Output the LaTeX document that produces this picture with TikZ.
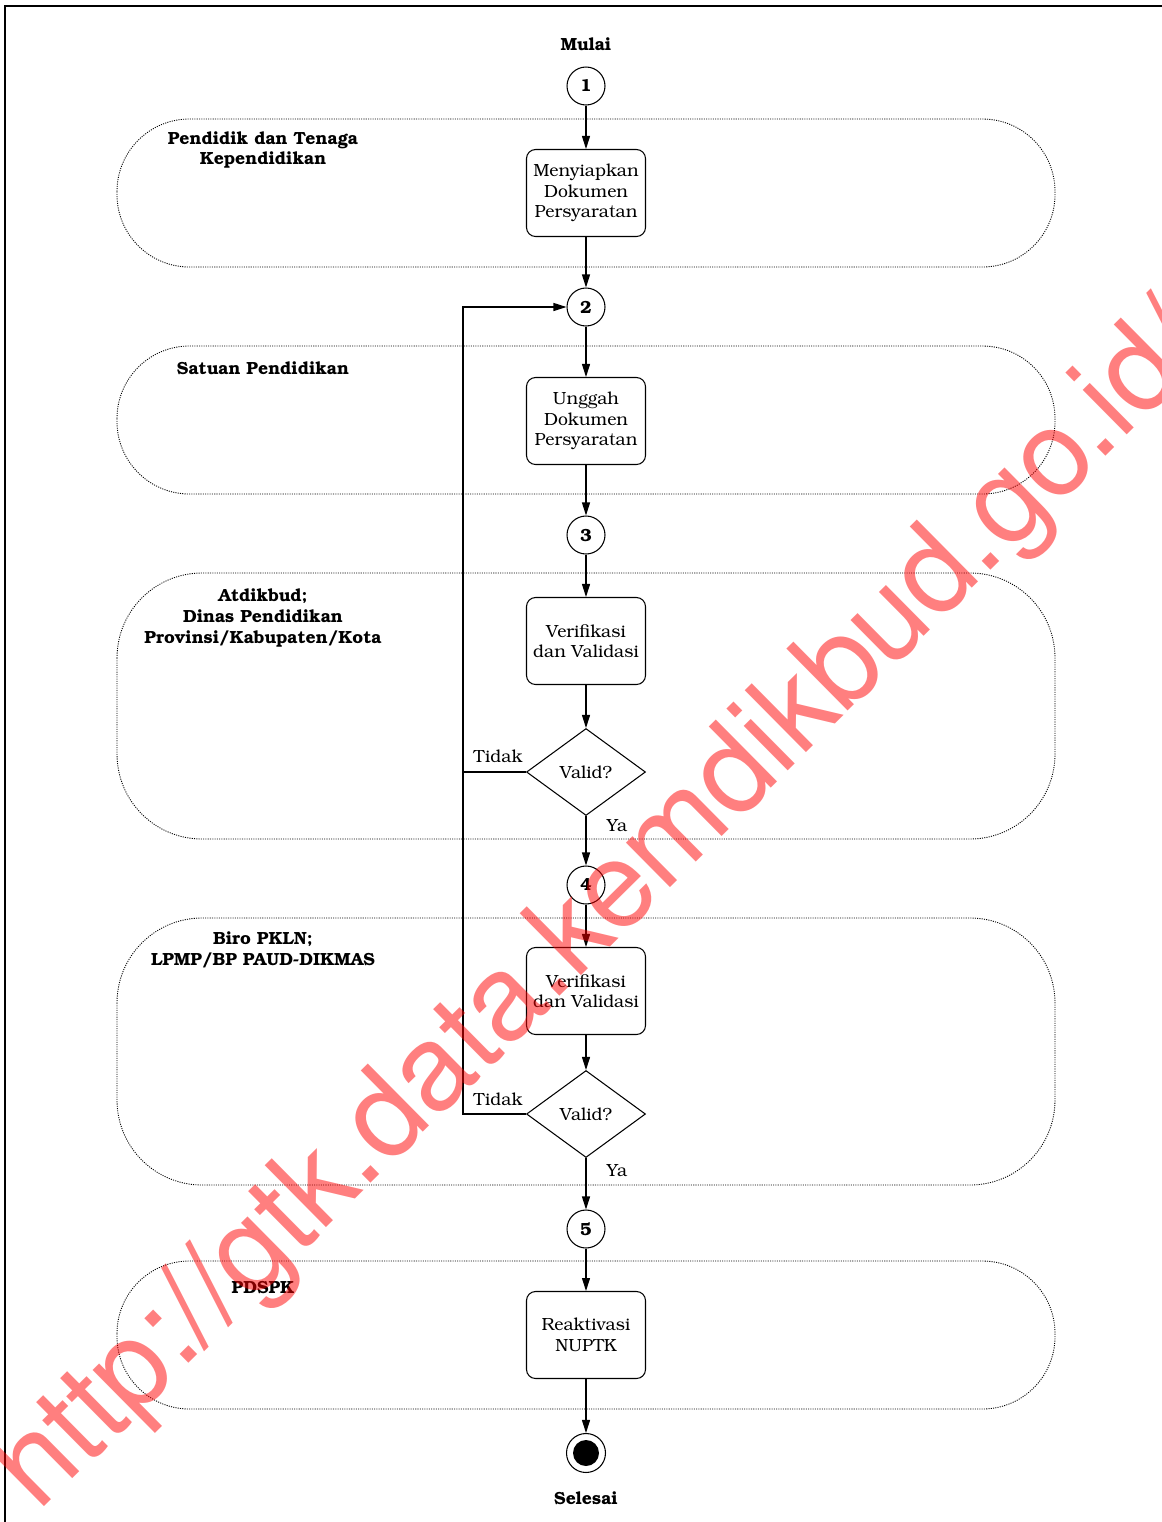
\documentclass[tikz,border=0pt]{standalone}
\usepackage[T1]{fontenc}
\usepackage{bookman}
\usetikzlibrary{shapes.geometric,arrows.meta}

\begin{document}
\begin{tikzpicture}[x=0.02cm,y=-0.02cm,
    lane/.style={draw,line width=0.5pt,dash pattern=on 0.6pt off 0.7pt,rounded corners=1.45cm},
    konektor/.style={circle,draw,line width=0.6pt,inner sep=0pt,minimum size=0.76cm,font=\fontsize{10}{12}\selectfont\bfseries},
    proses/.style={rectangle,rounded corners=0.18cm,draw,line width=0.6pt,minimum width=2.38cm,minimum height=1.74cm,align=center,inner sep=1pt,font=\fontsize{10}{11.6}\selectfont},
    keputusan/.style={diamond,draw,line width=0.6pt,minimum width=2.38cm,minimum height=1.74cm,inner sep=0pt,font=\fontsize{10}{11.6}\selectfont},
    judul/.style={align=center,inner sep=0pt,font=\fontsize{10}{11.9}\selectfont\bfseries},
    teks/.style={inner sep=0pt,font=\fontsize{10}{11.6}\selectfont},
    alur/.style={-{Triangle[length=0.26cm,width=0.16cm]},line width=0.6pt}]
      \useasboundingbox (0,0) rectangle (1162,1522);%
      \draw[line width=0.6pt] (5,1522) -- (5,6) -- (1162,6);%

      % lajur
      \draw[lane] (117,119) rectangle (1055,267);%
      \draw[lane] (117,346) rectangle (1055,494);%
      \draw[lane,rounded corners=1.7cm] (117,573) rectangle (1055,839);%
      \draw[lane,rounded corners=1.7cm] (117,918) rectangle (1055,1185);%
      \draw[lane] (117,1261) rectangle (1055,1409);%

      \node[judul] (J1) at (263,150) {Pendidik dan Tenaga\\Kependidikan};%
      \node[judul] (J2) at (263,368) {Satuan Pendidikan};%
      \node[judul] (J3) at (263,618) {Atdikbud;\\Dinas Pendidikan\\Provinsi/Kabupaten/Kota};%
      \node[judul] (J4) at (263,950) {Biro PKLN;\\LPMP/BP PAUD-DIKMAS};%
      \node[judul] (J5) at (263,1287) {PDSPK};%

      \node[judul] (MT) at (586,44) {Mulai};%
      \node[judul] (ST) at (586,1498) {Selesai};%

      \node[konektor] (K1) at (586,86) {1};%
      \node[konektor] (K2) at (586,307) {2};%
      \node[konektor] (K3) at (586,535) {3};%
      \node[konektor] (K4) at (586,885) {4};%
      \node[konektor] (K5) at (586,1229) {5};%

      \node[proses] (P1) at (586,193) {Menyiapkan\\Dokumen\\Persyaratan};%
      \node[proses] (P2) at (586,421) {Unggah\\Dokumen\\Persyaratan};%
      \node[proses] (P3) at (586,641) {Verifikasi\\dan Validasi};%
      \node[proses] (P4) at (586,991) {Verifikasi\\dan Validasi};%
      \node[proses] (P5) at (586,1335) {Reaktivasi\\NUPTK};%

      \node[keputusan] (V1) at (586,772) {Valid?};%
      \node[keputusan] (V2) at (586,1114) {Valid?};%

      \node[circle,draw,line width=0.6pt,inner sep=0pt,minimum size=0.78cm] (E) at (586,1453) {};%
      \node[circle,fill,inner sep=0pt,minimum size=0.52cm] (EF) at (586,1453) {};%

      \node[teks] (T1) at (498,756) {Tidak};%
      \node[teks] (Y1) at (617,825) {Ya};%
      \node[teks] (T2) at (498,1099) {Tidak};%
      \node[teks] (Y2) at (617,1170) {Ya};%

      \coordinate (balik) at (463,307);%

      \draw[alur] (K1) -- (P1);%
      \draw[alur] (P1) -- (K2);%
      \draw[alur] (K2) -- (P2);%
      \draw[alur] (P2) -- (K3);%
      \draw[alur] (K3) -- (P3);%
      \draw[alur] (P3) -- (V1);%
      \draw[alur] (V1) -- (K4);%
      \draw[alur] (K4) -- (P4);%
      \draw[alur] (P4) -- (V2);%
      \draw[alur] (V2) -- (K5);%
      \draw[alur] (K5) -- (P5);%
      \draw[alur] (P5) -- (E);%

      \draw[alur] (V1.west) -| (balik) -- (K2.west);%
      \draw[line width=0.6pt] (V2.west) -| (balik);%

      \node[rotate=44.7,anchor=base west,inner sep=0pt,text=red,text opacity=0.5,
        font=\fontfamily{phv}\fontsize{68}{68}\selectfont] (TA) at (38,1513)
        {http://gtk.data.kemdikbud.go.id/};%
\end{tikzpicture}
\end{document}
